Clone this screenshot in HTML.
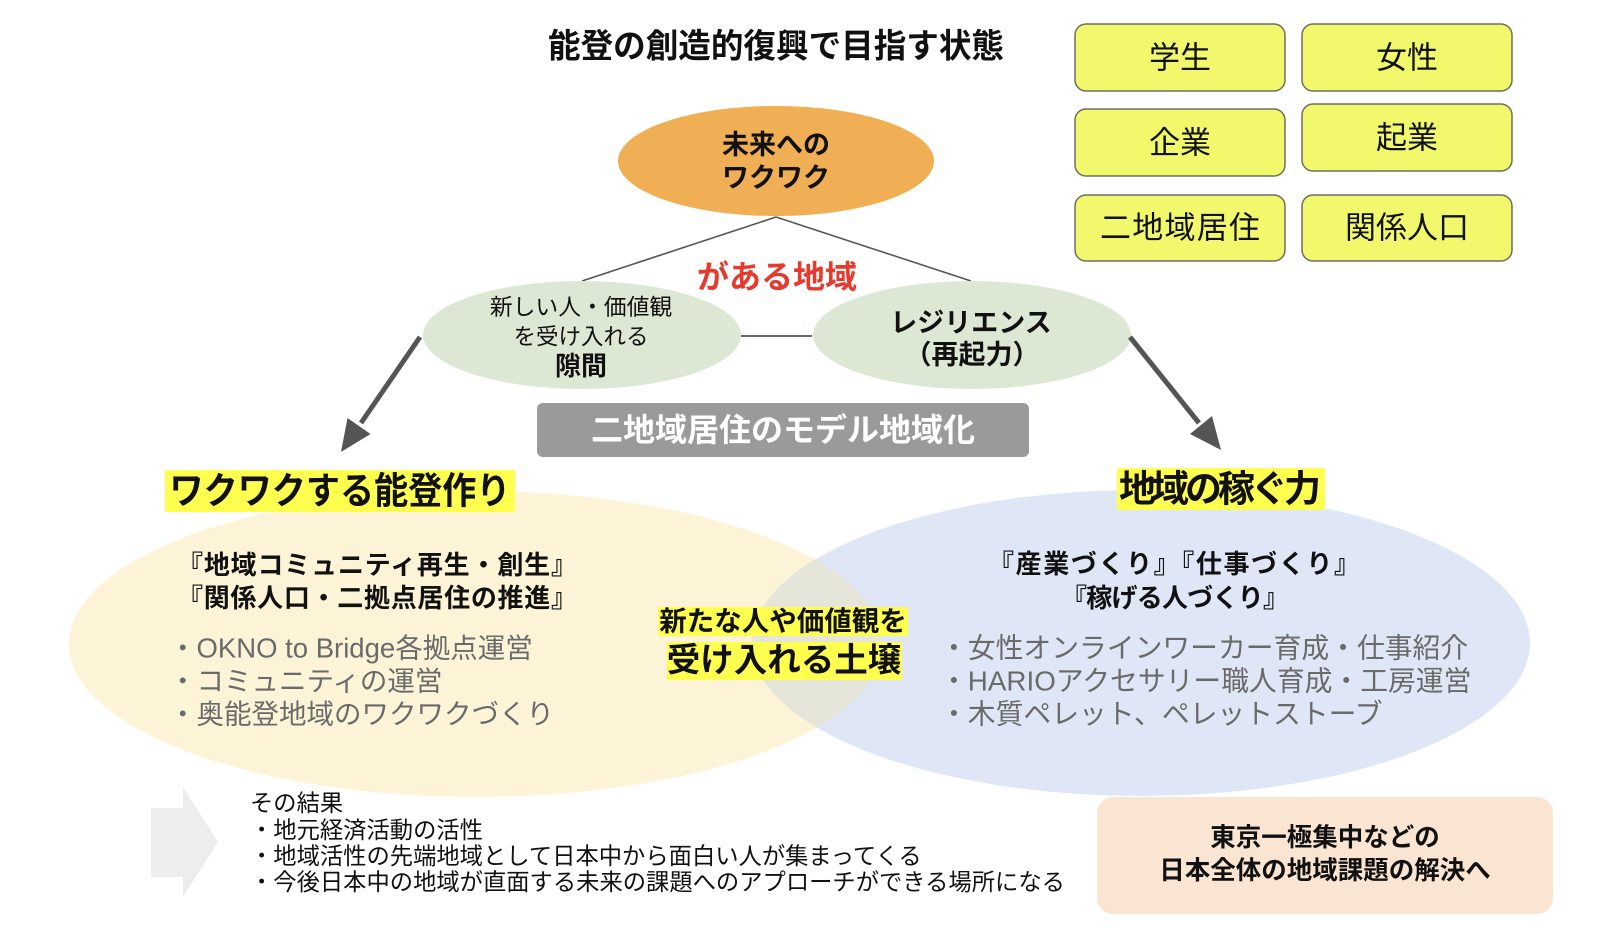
<!DOCTYPE html>
<html lang="ja">
<head>
<meta charset="utf-8">
<style>
  html,body{margin:0;padding:0;background:#fff;}
  body{width:1614px;height:930px;overflow:hidden;}
  svg{display:block;}
  text{font-family:"Liberation Sans","Noto Sans CJK JP",sans-serif;}
</style>
</head>
<body>
<svg width="1614" height="930" viewBox="0 0 1614 930" xmlns="http://www.w3.org/2000/svg">
  <defs>
    <clipPath id="leftEl">
      <ellipse cx="476" cy="644" rx="407" ry="153"/>
    </clipPath>
  </defs>

  <!-- Title -->
  <text x="776" y="47" font-size="33.5" font-weight="bold" fill="#111" text-anchor="middle" dominant-baseline="central" textLength="456" lengthAdjust="spacingAndGlyphs">能登の創造的復興で目指す状態</text>

  <!-- Yellow boxes -->
  <g fill="#F1F86B" stroke="#6E6E5E" stroke-width="1.5">
    <rect x="1075" y="24" width="210" height="67" rx="11"/>
    <rect x="1302" y="24" width="210" height="67" rx="11"/>
    <rect x="1075" y="109" width="210" height="67" rx="11"/>
    <rect x="1302" y="104" width="210" height="67" rx="11"/>
    <rect x="1075" y="195" width="210" height="66" rx="11"/>
    <rect x="1302" y="195" width="210" height="66" rx="11"/>
  </g>
  <g font-size="31" fill="#111" text-anchor="middle" dominant-baseline="central">
    <text x="1180" y="58">学生</text>
    <text x="1407" y="58">女性</text>
    <text x="1180" y="143">企業</text>
    <text x="1407" y="138">起業</text>
    <text x="1180" y="228" textLength="160" lengthAdjust="spacing">二地域居住</text>
    <text x="1407" y="228">関係人口</text>
  </g>

  <!-- connector lines -->
  <g stroke="#555" stroke-width="1.6" fill="none">
    <line x1="776" y1="217" x2="582" y2="281"/>
    <line x1="776" y1="217" x2="971" y2="281"/>
    <line x1="741" y1="336" x2="812" y2="336"/>
  </g>

  <!-- Orange ellipse -->
  <ellipse cx="776" cy="161" rx="158" ry="55" fill="#F0AE55"/>
  <text x="776" y="145" font-size="27" font-weight="bold" fill="#111" text-anchor="middle" dominant-baseline="central">未来への</text>
  <text x="776" y="178" font-size="27" font-weight="bold" fill="#111" text-anchor="middle" dominant-baseline="central">ワクワク</text>

  <!-- red label -->
  <text x="777" y="277" font-size="32" font-weight="bold" fill="#E63A2E" text-anchor="middle" dominant-baseline="central">がある地域</text>

  <!-- Green ellipses -->
  <ellipse cx="582" cy="335" rx="159" ry="54" fill="#DDE8D4"/>
  <ellipse cx="972" cy="335" rx="159" ry="54" fill="#DDE8D4"/>
  <line x1="741" y1="336" x2="812" y2="336" stroke="#555" stroke-width="1.6"/>

  <g fill="#111" text-anchor="middle" dominant-baseline="central">
    <text x="581" y="307" font-size="22.8">新しい人・価値観</text>
    <text x="581" y="337" font-size="22.5">を受け入れる</text>
    <text x="581" y="366" font-size="26" font-weight="bold">隙間</text>
    <text x="971" y="323" font-size="27" font-weight="bold">レジリエンス</text>
    <text x="972" y="355" font-size="27" font-weight="bold">（再起力）</text>
  </g>

  <!-- Gray banner -->
  <rect x="537" y="403" width="492" height="54" rx="6" fill="#9A9A9A"/>
  <text x="783" y="430" font-size="32" font-weight="bold" fill="#fff" text-anchor="middle" dominant-baseline="central">二地域居住のモデル地域化</text>

  <!-- Down arrows -->
  <line x1="420" y1="337" x2="361" y2="423" stroke="#555" stroke-width="5"/>
  <polygon points="341,452 347.5,418 370.5,434" fill="#555"/>
  <line x1="1130" y1="337" x2="1199" y2="423" stroke="#555" stroke-width="5"/>
  <polygon points="1221,450 1190,434 1212,416" fill="#555"/>

  <!-- Venn ellipses -->
  <ellipse cx="476" cy="644" rx="407" ry="153" fill="#FDF4D8"/>
  <ellipse cx="1141" cy="643" rx="389" ry="153" fill="#DFE7F6"/>
  <ellipse cx="1141" cy="643" rx="389" ry="153" fill="#E5E5D9" clip-path="url(#leftEl)"/>

  <!-- Headers with highlight -->
  <rect x="165" y="470" width="350" height="42" fill="#FFFF50"/>
  <text x="340" y="491" font-size="37" font-weight="bold" fill="#111" text-anchor="middle" dominant-baseline="central" textLength="341" lengthAdjust="spacingAndGlyphs">ワクワクする能登作り</text>
  <rect x="1117" y="468" width="208" height="42" fill="#FFFF50"/>
  <text x="1220" y="489" font-size="37" font-weight="bold" fill="#111" text-anchor="middle" dominant-baseline="central" textLength="202" lengthAdjust="spacing">地域の稼ぐ力</text>

  <!-- Left ellipse content -->
  <g fill="#111" font-weight="bold" font-size="26" text-anchor="middle" dominant-baseline="central">
    <text x="377" y="565" textLength="400" lengthAdjust="spacing">『地域コミュニティ再生・創生』</text>
    <text x="377" y="598" textLength="400" lengthAdjust="spacing">『関係人口・二拠点居住の推進』</text>
  </g>
  <g fill="#6A6A6A" font-size="27.5" dominant-baseline="central">
    <text x="169" y="648">・OKNO to Bridge各拠点運営</text>
    <text x="169" y="681">・コミュニティの運営</text>
    <text x="169" y="714">・奥能登地域のワクワクづくり</text>
  </g>

  <!-- Middle overlap label -->
  <rect x="658" y="607" width="250" height="29" fill="#FFFF50"/>
  <rect x="667" y="642" width="235" height="38" fill="#FFFF50"/>
  <text x="783" y="621" font-size="27.5" font-weight="bold" fill="#111" text-anchor="middle" dominant-baseline="central">新たな人や価値観を</text>
  <text x="784" y="661" font-size="33.5" font-weight="bold" fill="#111" text-anchor="middle" dominant-baseline="central">受け入れる土壌</text>

  <!-- Right ellipse content -->
  <g fill="#111" font-weight="bold" font-size="26" text-anchor="middle" dominant-baseline="central">
    <text x="1174" y="564" textLength="372" lengthAdjust="spacing">『産業づくり』『仕事づくり』</text>
    <text x="1175" y="598" textLength="228" lengthAdjust="spacing">『稼げる人づくり』</text>
  </g>
  <g fill="#6A6A6A" font-size="27.8" dominant-baseline="central">
    <text x="940" y="648">・女性オンラインワーカー育成・仕事紹介</text>
    <text x="940" y="681">・HARIOアクセサリー職人育成・工房運営</text>
    <text x="940" y="714">・木質ペレット、ペレットストーブ</text>
  </g>

  <!-- Bottom-left light arrow -->
  <polygon points="151,808 183,808 183,787 218,842 183,897 183,877 151,877" fill="#EDEDED"/>

  <!-- Result text -->
  <g fill="#111" font-size="23.3" dominant-baseline="central">
    <text x="250" y="803">その結果</text>
    <text x="250" y="830">・地元経済活動の活性</text>
    <text x="250" y="856">・地域活性の先端地域として日本中から面白い人が集まってくる</text>
    <text x="250" y="882">・今後日本中の地域が直面する未来の課題へのアプローチができる場所になる</text>
  </g>

  <!-- Bottom-right box -->
  <rect x="1097" y="797" width="456" height="117" rx="16" fill="#F9E5D2"/>
  <text x="1325" y="838" font-size="25.5" font-weight="bold" fill="#111" text-anchor="middle" dominant-baseline="central">東京一極集中などの</text>
  <text x="1325" y="871" font-size="25.5" font-weight="bold" fill="#111" text-anchor="middle" dominant-baseline="central">日本全体の地域課題の解決へ</text>
</svg>
</body>
</html>
